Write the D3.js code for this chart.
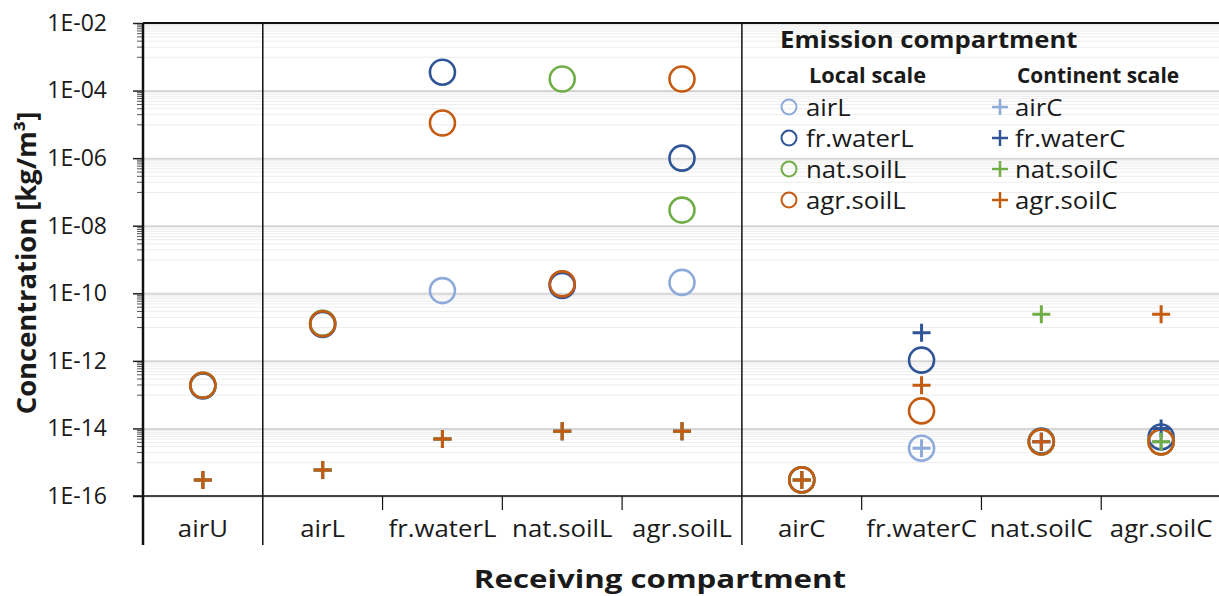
<!DOCTYPE html>
<html><head><meta charset="utf-8">
<script src="https://cdn.jsdelivr.net/npm/d3@7"></script>
<style>
html,body{margin:0;padding:0;background:#fff;}
svg{display:block;font-family:"Open Sans",sans-serif;}
</style></head>
<body><svg id="c" width="1219" height="596"></svg>
<script>
// ---------- data ----------
const categories = ["airU","airL","fr.waterL","nat.soilL","agr.soilL","airC","fr.waterC","nat.soilC","agr.soilC"];
const groupBreaks = ["airL","airC"]; // categories preceded by a full-height separator
const yTickValues = [1e-2,1e-4,1e-6,1e-8,1e-10,1e-12,1e-14,1e-16];
const yTickLabels = ["1E-02","1E-04","1E-06","1E-08","1E-10","1E-12","1E-14","1E-16"];

// local-scale emissions (circles)
const airL      = [1.9e-13, 1.3e-11, 1.2e-10, 1.9e-10, 2.1e-10, 3e-16, 2.6e-15, 4e-15, 4e-15];
const frWaterL  = [1.8e-13, 1.2e-11, 3.5e-4,  1.7e-10, 1.0e-6,  3e-16, 1.05e-12, 4.2e-15, 5.6e-15];
const natSoilL  = [1.9e-13, 1.3e-11, null,    2.2e-4,  2.9e-8,  3e-16, null,    4e-15, 4e-15];
const agrSoilL  = [1.9e-13, 1.25e-11, 1.1e-5, 1.9e-10, 2.2e-4,  3e-16, 3.3e-14, 4e-15, 4e-15];
// continent-scale emissions (plus signs)
const airC      = [3e-16, 5.9e-16, 4.9e-15, 8.3e-15, 8.3e-15, 3e-16, 2.6e-15, 4e-15, 4e-15];
const frWaterC  = [3e-16, 5.9e-16, 4.9e-15, 8.3e-15, 8.3e-15, 3e-16, 6.8e-12, 4e-15, 1.0e-14];
const natSoilC  = [3e-16, 5.9e-16, 4.9e-15, 8.3e-15, 8.3e-15, 3e-16, null,    2.4e-11, 4e-15];
const agrSoilC  = [3e-16, 5.9e-16, 4.9e-15, 8.3e-15, 8.3e-15, 3e-16, 1.9e-13, 4e-15, 2.4e-11];

const seriesNames = ["airL","fr.waterL","nat.soilL","agr.soilL","airC","fr.waterC","nat.soilC","agr.soilC"];
const seriesValues = [airL, frWaterL, natSoilL, agrSoilL, airC, frWaterC, natSoilC, agrSoilC];
const seriesColors = ["#8eaadb","#2f5597","#70ad47","#c55a11","#8eaadb","#2f5597","#70ad47","#c55a11"];
const seriesShapes = ["circle","circle","circle","circle","plus","plus","plus","plus"];

// ---------- layout ----------
const L = 143, R = 1221, T = 23, B = 496;
const svg = d3.select("#c");
const x = d3.scaleBand().domain(categories).range([L, R]).padding(0);
const y = d3.scaleLog().domain([1e-16, 1e-2]).range([B, T]);
const SX = 1.12; // horizontal stretch of the source image text

function stretchedText(g, tx, ty, str, opts) {
  return g.append("text")
    .attr("transform", `translate(${tx},${ty}) scale(${opts.sx || SX},1)`)
    .attr("font-size", opts.size || 23)
    .attr("font-weight", opts.weight || "normal")
    .attr("text-anchor", opts.anchor || "start")
    .attr("fill", "#1a1a1a")
    .text(str);
}

// minor values (base-100 log axis: 10..90 x each major)
const minorVals = [];
for (let e = -16; e < -2; e += 2) {
  for (let m = 10; m <= 90; m += 10) minorVals.push(m * Math.pow(10, e));
}

// minor gridlines
svg.append("g").attr("transform", `translate(${L},0)`)
  .call(d3.axisLeft(y).tickValues(minorVals).tickSize(-(R - L)).tickFormat(""))
  .call(g => g.select(".domain").remove())
  .call(g => g.selectAll("line").attr("stroke", "#ededed").attr("stroke-width", 1));
// major gridlines
svg.append("g").attr("transform", `translate(${L},0)`)
  .call(d3.axisLeft(y).tickValues(yTickValues).tickSize(-(R - L)).tickFormat(""))
  .call(g => g.select(".domain").remove())
  .call(g => g.selectAll("line").attr("stroke", "#d6d6d6").attr("stroke-width", 2));

// left axis minor ticks
svg.append("g").attr("transform", `translate(${L},0)`)
  .call(d3.axisLeft(y).tickValues(minorVals).tickSize(6).tickFormat(""))
  .call(g => g.select(".domain").remove())
  .call(g => g.selectAll("line").attr("stroke", "#555").attr("stroke-width", 1));
// left axis major ticks + labels
svg.append("g").attr("transform", `translate(${L},0)`)
  .call(d3.axisLeft(y).tickValues(yTickValues).tickSize(10).tickPadding(26)
        .tickFormat((d, i) => yTickLabels[i]))
  .call(g => g.select(".domain").remove())
  .call(g => g.selectAll("line").attr("stroke", "#222").attr("stroke-width", 1.5))
  .call(g => g.selectAll("text").attr("font-size", 23).attr("fill", "#1a1a1a")
        .attr("font-family", "Open Sans, sans-serif"));

// frame lines
const frame = svg.append("g").attr("stroke", "#111").attr("fill", "none");
frame.append("line").attr("x1", L).attr("x2", R).attr("y1", T).attr("y2", T).attr("stroke-width", 2);
frame.append("line").attr("x1", L - 10).attr("x2", R).attr("y1", B).attr("y2", B).attr("stroke-width", 1.5);
frame.append("line").attr("x1", L).attr("x2", L).attr("y1", T).attr("y2", 545).attr("stroke-width", 2.5);
groupBreaks.forEach(c => {
  frame.append("line").attr("x1", x(c)).attr("x2", x(c)).attr("y1", T).attr("y2", 545).attr("stroke-width", 1.5);
});
categories.slice(1).forEach(c => {
  if (groupBreaks.indexOf(c) < 0)
    frame.append("line").attr("x1", x(c)).attr("x2", x(c)).attr("y1", B).attr("y2", 510).attr("stroke-width", 1.2);
});

// category labels
const catG = svg.append("g");
categories.forEach(c => stretchedText(catG, x(c) + x.bandwidth() / 2, 537, c, {anchor: "middle"}));

// axis titles
stretchedText(svg, 660, 588, "Receiving compartment", {anchor: "middle", size: 25, weight: "bold", sx: 1.25});
svg.append("text")
  .attr("transform", `translate(36,263) rotate(-90) scale(1.14,1.08)`)
  .attr("text-anchor", "middle").attr("font-size", 24).attr("font-weight", "bold")
  .attr("fill", "#1a1a1a")
  .text("Concentration [kg/m³]");

// ---------- markers ----------
const plusPath = s => `M${-s},0H${s}M0,${-s}V${s}`;
const marks = svg.append("g");
seriesValues.forEach((vals, si) => {
  const pts = categories.map((c, i) => ({c, v: vals[i]})).filter(d => d.v != null);
  const g = marks.append("g");
  if (seriesShapes[si] === "circle") {
    g.selectAll("circle").data(pts).join("circle")
      .attr("cx", d => x(d.c) + x.bandwidth() / 2)
      .attr("cy", d => y(d.v))
      .attr("r", 12.5)
      .attr("fill", "none")
      .attr("stroke", seriesColors[si])
      .attr("stroke-width", 2.6);
  } else {
    g.selectAll("path").data(pts).join("path")
      .attr("transform", d => `translate(${x(d.c) + x.bandwidth() / 2},${y(d.v)})`)
      .attr("d", plusPath(9))
      .attr("fill", "none")
      .attr("stroke", seriesColors[si])
      .attr("stroke-width", 3);
  }
});

// ---------- legend ----------
const lg = svg.append("g");
stretchedText(lg, 780, 48, "Emission compartment", {size: 24, weight: "bold", sx: 1.07});
stretchedText(lg, 809, 83, "Local scale", {size: 22, weight: "bold", sx: 0.99});
stretchedText(lg, 1017, 83, "Continent scale", {size: 22, weight: "bold", sx: 0.95});
const rowY = [107, 138, 169, 200];
seriesNames.forEach((n, si) => {
  const row = si % 4;
  const isC = seriesShapes[si] === "circle";
  const mx = isC ? 789 : 1000;
  const tx = isC ? 806 : 1015;
  const cy = rowY[row];
  if (isC) {
    lg.append("circle").attr("cx", mx).attr("cy", cy).attr("r", 7.5)
      .attr("fill", "none").attr("stroke", seriesColors[si]).attr("stroke-width", 2);
  } else {
    lg.append("path").attr("transform", `translate(${mx},${cy})`).attr("d", plusPath(8))
      .attr("fill", "none").attr("stroke", seriesColors[si]).attr("stroke-width", 2.5);
  }
  stretchedText(lg, tx, cy + 8.5, n, {size: 23});
});
</script></body></html>
